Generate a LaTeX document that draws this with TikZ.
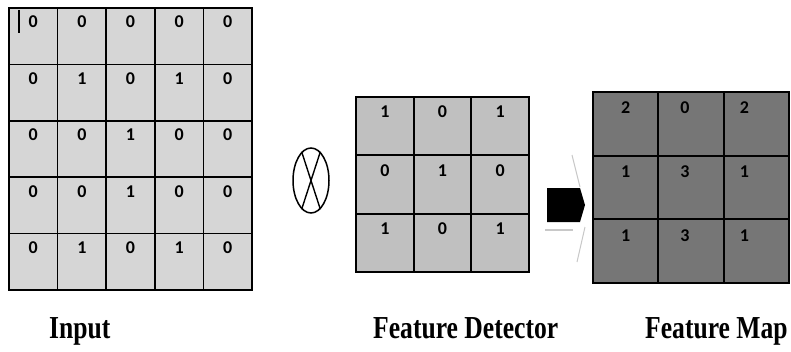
\documentclass[tikz,border=0pt]{standalone}
\usepackage{fontspec}
\setmainfont{Liberation Serif}
\newfontfamily\digitfont{Carlito}
\usetikzlibrary{shapes.geometric}
\definecolor{ingray}{RGB}{214,214,214}
\definecolor{detgray}{RGB}{192,192,192}
\definecolor{mapgray}{RGB}{118,118,118}
\definecolor{faint}{RGB}{200,200,200}
\tikzset{
  cellbase/.style={anchor=north west, inner sep=0pt, outer sep=0pt},
  incell/.style={cellbase, fill=ingray, minimum width=48.6pt, minimum height=56.4pt},
  detcell/.style={cellbase, fill=detgray, minimum width=57.67pt, minimum height=58.33pt},
  mapcell/.style={cellbase, fill=mapgray, minimum width=65.33pt, minimum height=63.67pt},
  gridline/.style={draw=black, line width=1.7pt},
  digit/.style={font=\digitfont\bfseries\fontsize{18}{18}\selectfont, inner sep=0pt, text=black},
  lbl/.style={font=\bfseries\fontsize{32}{32}\selectfont, inner sep=0pt, anchor=base west},
}
\begin{document}
\begin{tikzpicture}[x=1pt,y=-1pt]
\useasboundingbox[fill=white] (0,0) rectangle (791,351);
% Input grid
\foreach \row [count=\r from 0] in {{0,0,0,0,0},{0,1,0,1,0},{0,0,1,0,0},{0,0,1,0,0},{0,1,0,1,0}}{
  \foreach \v [count=\c from 0] in \row {
    \node[incell] (in-\r-\c) at ({9+48.6*\c},{8+56.4*\r}) {};
  }
}
\foreach \row [count=\r from 0] in {{0,0,0,0,0},{0,1,0,1,0},{0,0,1,0,0},{0,0,1,0,0},{0,1,0,1,0}}{
  \foreach \v [count=\c from 0] in \row {
    \draw[gridline] (in-\r-\c.north west) rectangle (in-\r-\c.south east);
    \node[digit] (ind-\r-\c) at ([yshift=-14pt]in-\r-\c.north) {\v};
  }
}
\draw[line width=1.4pt] (19,10) -- (19,33);
% Operator
\node[draw, ellipse, line width=1.5pt, minimum width=36pt, minimum height=65pt, inner sep=0pt] (op) at (311,180.5) {};
\draw[line width=1.4pt] (op.72) -- (op.252);
\draw[line width=1.4pt] (op.108) -- (op.288);
% Detector grid
\foreach \row [count=\r from 0] in {{1,0,1},{0,1,0},{1,0,1}}{
  \foreach \v [count=\c from 0] in \row {
    \node[detcell] (det-\r-\c) at ({356+57.67*\c},{97+58.33*\r}) {};
  }
}
\foreach \row [count=\r from 0] in {{1,0,1},{0,1,0},{1,0,1}}{
  \foreach \v [count=\c from 0] in \row {
    \draw[gridline] (det-\r-\c.north west) rectangle (det-\r-\c.south east);
    \node[digit] (detd-\r-\c) at ([yshift=-15pt]det-\r-\c.north) {\v};
  }
}
% Arrow
\fill[black] (547,188) -- (580,188) -- (585,205) -- (580,222) -- (547,222) -- cycle;
\draw[faint, line width=1.2pt] (545,230) -- (573,230);
\draw[faint, line width=1pt] (572,155) -- (580,187);
\draw[faint, line width=1pt] (585,227) -- (577,262);
% Map grid
\foreach \row [count=\r from 0] in {{2,0,2},{1,3,1},{1,3,1}}{
  \foreach \v [count=\c from 0] in \row {
    \node[mapcell] (map-\r-\c) at ({593+65.33*\c},{92+63.67*\r}) {};
  }
}
\foreach \row [count=\r from 0] in {{2,0,2},{1,3,1},{1,3,1}}{
  \foreach \v [count=\c from 0] in \row {
    \draw[gridline] (map-\r-\c.north west) rectangle (map-\r-\c.south east);
    \node[digit] (mapd-\r-\c) at ([yshift=-16pt,xshift={-6pt*\c}]map-\r-\c.north) {\v};
  }
}
% Labels
\node[lbl] (linput) at (49,338) {\scalebox{0.8}[1]{Input}};
\node[lbl] (ldet) at (373,338) {\scalebox{0.8}[1]{Feature Detector}};
\node[lbl] (lmap) at (645,338) {\scalebox{0.8}[1]{Feature Map}};
\end{tikzpicture}
\end{document}
